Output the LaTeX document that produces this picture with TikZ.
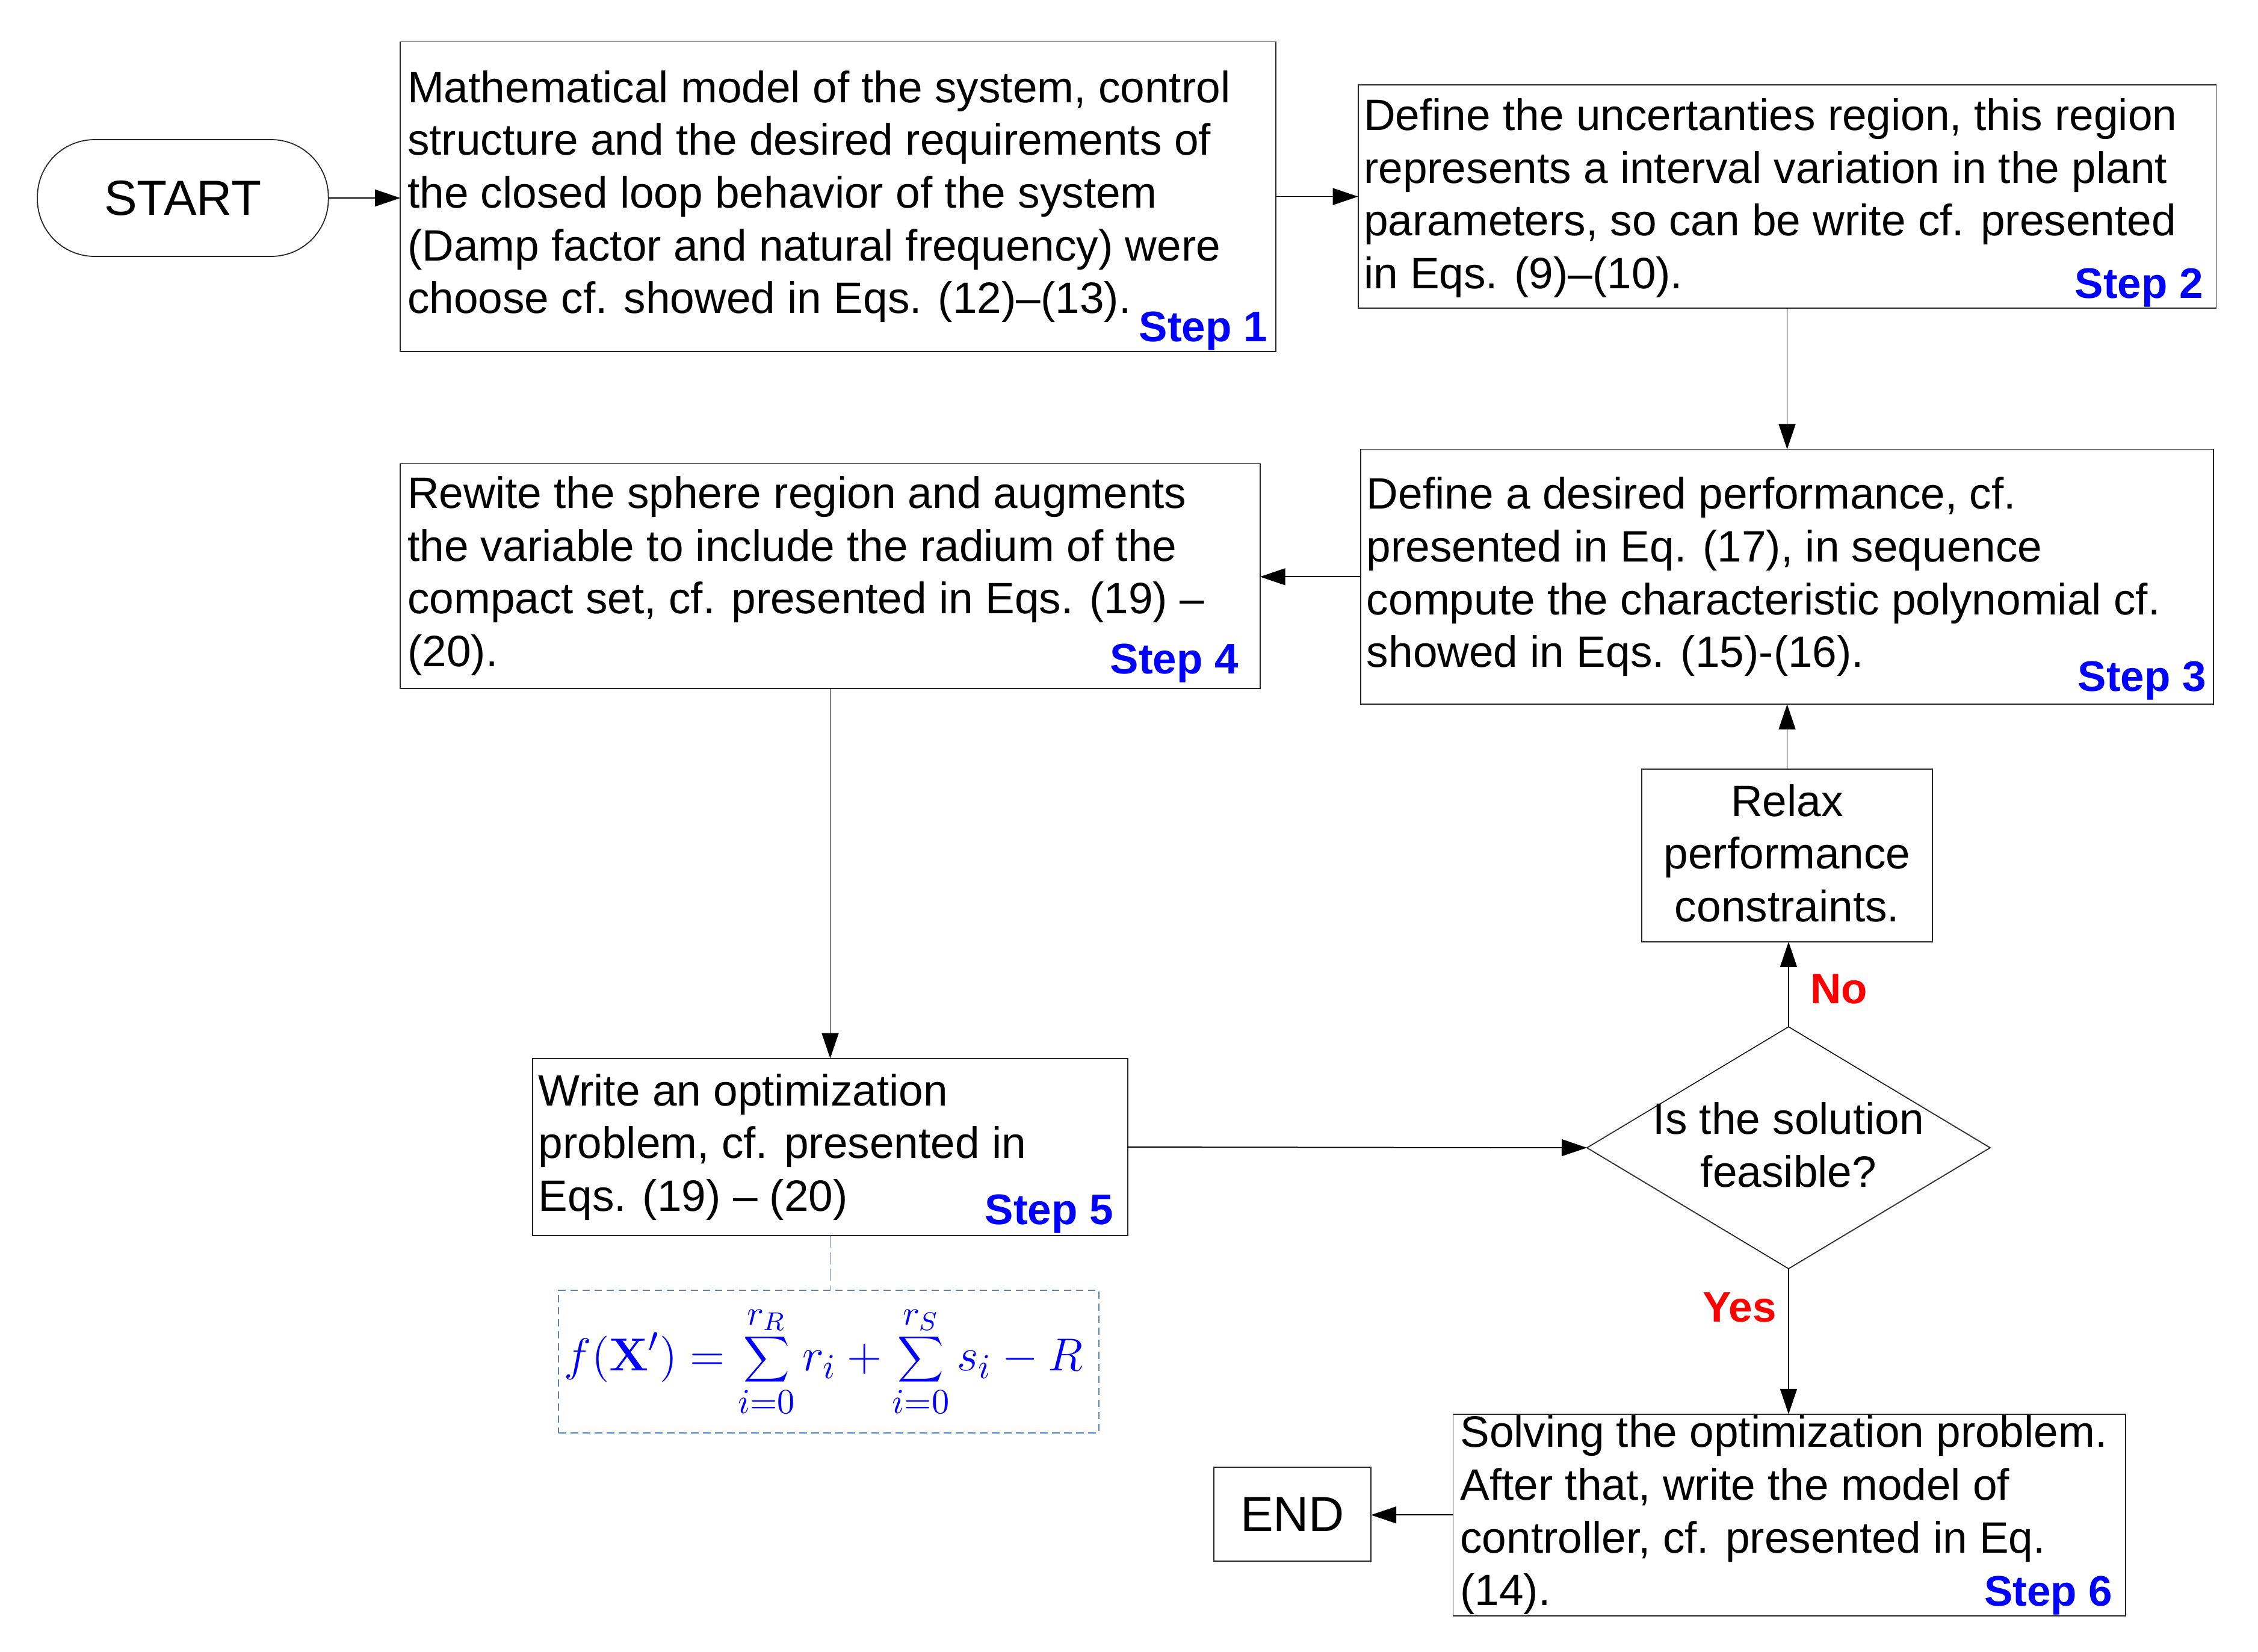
\documentclass[tikz,border=0pt]{standalone}
\usepackage[no-math]{fontspec}
\usepackage{graphicx}
\setmainfont{Liberation Sans}
\usetikzlibrary{arrows.meta,shapes.geometric,calc}
\definecolor{stepblue}{RGB}{0,0,255}
\definecolor{nored}{RGB}{255,0,0}
\definecolor{dashblue}{RGB}{80,130,210}
\begin{document}
\begin{tikzpicture}[x=0.4786pt, y=-0.4786pt,
  every node/.style={inner sep=0pt, outer sep=0pt},
  boxshape/.style={draw=black!85, line width=0.35pt},
  txt/.style={align=left, font=\fontsize{14.6}{17.55}\selectfont},
  ctxt/.style={align=center, font=\fontsize{14.6}{17.55}\selectfont},
  steplbl/.style={text=stepblue, font=\fontsize{14.2}{17}\selectfont\bfseries, anchor=base east},
  answer/.style={text=nored, font=\fontsize{14.2}{17}\selectfont\bfseries},
  arr/.style={-{Triangle[length=8.4pt,width=5.6pt]}, line width=0.35pt, draw=black},
  fbox/.style={draw=dashblue, line width=0.4pt, dash pattern=on 2.5pt off 1.5pt},
  bigtxt/.style={font=\fontsize{16.4}{19}\selectfont}
]
\useasboundingbox (0,0) rectangle (1568,1147);

% boxes
\node[boxshape, bigtxt, rounded corners=19pt, minimum width=96.7pt, minimum height=38.8pt] (start) at (127,137.5) {START};
\node[boxshape, minimum width=291.0pt, minimum height=102.9pt] (s1) at (582,136.5) {};
\node[boxshape, minimum width=285.2pt, minimum height=74.2pt] (s2) at (1241,136.5) {};
\node[boxshape, minimum width=283.3pt, minimum height=84.7pt] (s3) at (1241,400.5) {};
\node[boxshape, minimum width=285.7pt, minimum height=74.7pt] (s4) at (576.5,400) {};
\node[boxshape, minimum width=96.7pt, minimum height=57.4pt] (relax) at (1241,594) {};
\node[boxshape, diamond, minimum width=134.0pt, minimum height=80.4pt] (dec) at (1242,797) {};
\node[boxshape, minimum width=197.7pt, minimum height=58.9pt] (s5) at (576.5,796.5) {};
\node[fbox, minimum width=179.5pt, minimum height=47.4pt] (fb) at (575.5,945.5) {};
\node[boxshape, minimum width=223.5pt, minimum height=67.0pt] (s6) at (1242.5,1052) {};
\node[boxshape, bigtxt, minimum width=52.2pt, minimum height=31.1pt] (endn) at (897.5,1051.5) {END};

% texts
\node[txt, anchor=west] (s1t) at ($(s1.west)+(5,0)$) {Mathematical model of the system, control\\structure and the desired requirements of\\the closed loop behavior of the system\\(Damp factor and natural frequency) were\\choose cf. showed in Eqs. (12)–(13).};
\node[txt, anchor=west] (s2t) at ($(s2.west)+(4,1)$) {Define the uncertanties region, this region\\represents a interval variation in the plant\\parameters, so can be write cf. presented\\in Eqs. (9)–(10).};
\node[txt, anchor=west] (s3t) at ($(s3.west)+(4,0)$) {Define a desired performance, cf.\\presented in Eq. (17), in sequence\\compute the characteristic polynomial cf.\\showed in Eqs. (15)-(16).};
\node[txt, anchor=west] (s4t) at ($(s4.west)+(5,0)$) {Rewite the sphere region and augments\\the variable to include the radium of the\\compact set, cf. presented in Eqs. (19) –\\(20).};
\node[txt, anchor=west] (s5t) at ($(s5.west)+(4,0)$) {Write an optimization\\problem, cf. presented in\\Eqs. (19) – (20)};
\node[txt, anchor=west] (s6t) at ($(s6.west)+(5,0)$) {Solving the optimization problem.\\After that, write the model of\\controller, cf. presented in Eq.\\(14).};
\node[ctxt] (relaxt) at ($(relax)+(0,-1.5)$) {Relax\\performance\\constraints.};
\node[ctxt] (dect) at ($(dec)+(0,-2)$) {Is the solution\\feasible?};
\node[text=stepblue, font=\fontsize{15.2}{17}\selectfont] (fml) at ($(fb)+(-3.5,0)$) {\scalebox{1.065}{$\displaystyle f(\mathbf{X}')=\sum_{i=0}^{r_R} r_i+\sum_{i=0}^{r_S} s_i-R$}};

% step labels
\node[steplbl] (l1) at ($(s1.south east)+(-6,-7)$) {Step 1};
\node[steplbl] (l2) at ($(s2.south east)+(-9,-7)$) {Step 2};
\node[steplbl] (l3) at ($(s3.south east)+(-5,-9)$) {Step 3};
\node[steplbl] (l4) at ($(s4.south east)+(-15,-10)$) {Step 4};
\node[steplbl] (l5) at ($(s5.south east)+(-10,-8)$) {Step 5};
\node[steplbl] (l6) at ($(s6.south east)+(-9,-7)$) {Step 6};

\node[answer] (no) at (1277,687) {No};
\node[answer] (yes) at (1208,908) {Yes};

% connectors
\draw[arr] (start.east) -- (start.east -| s1.west);
\draw[arr] (s1.east) -- (s1.east -| s2.west);
\draw[arr] (s2.south) -- (s2.south |- s3.north);
\draw[arr] (s3.west) -- (s3.west -| s4.east);
\draw[arr] (s4.south) -- (s4.south |- s5.north);
\draw[arr] (s5.east) -- (dec.west);
\draw[arr] (dec.north) -- (dec.north |- relax.south);
\draw[arr] (relax.north) -- (relax.north |- s3.south);
\draw[arr] (dec.south) -- (dec.south |- s6.north);
\draw[arr] (s6.west) -- (s6.west -| endn.east);
\draw[draw=dashblue, line width=0.35pt, dash pattern=on 4pt off 1.5pt] (s5.south) -- (s5.south |- fb.north);
\end{tikzpicture}
\end{document}
